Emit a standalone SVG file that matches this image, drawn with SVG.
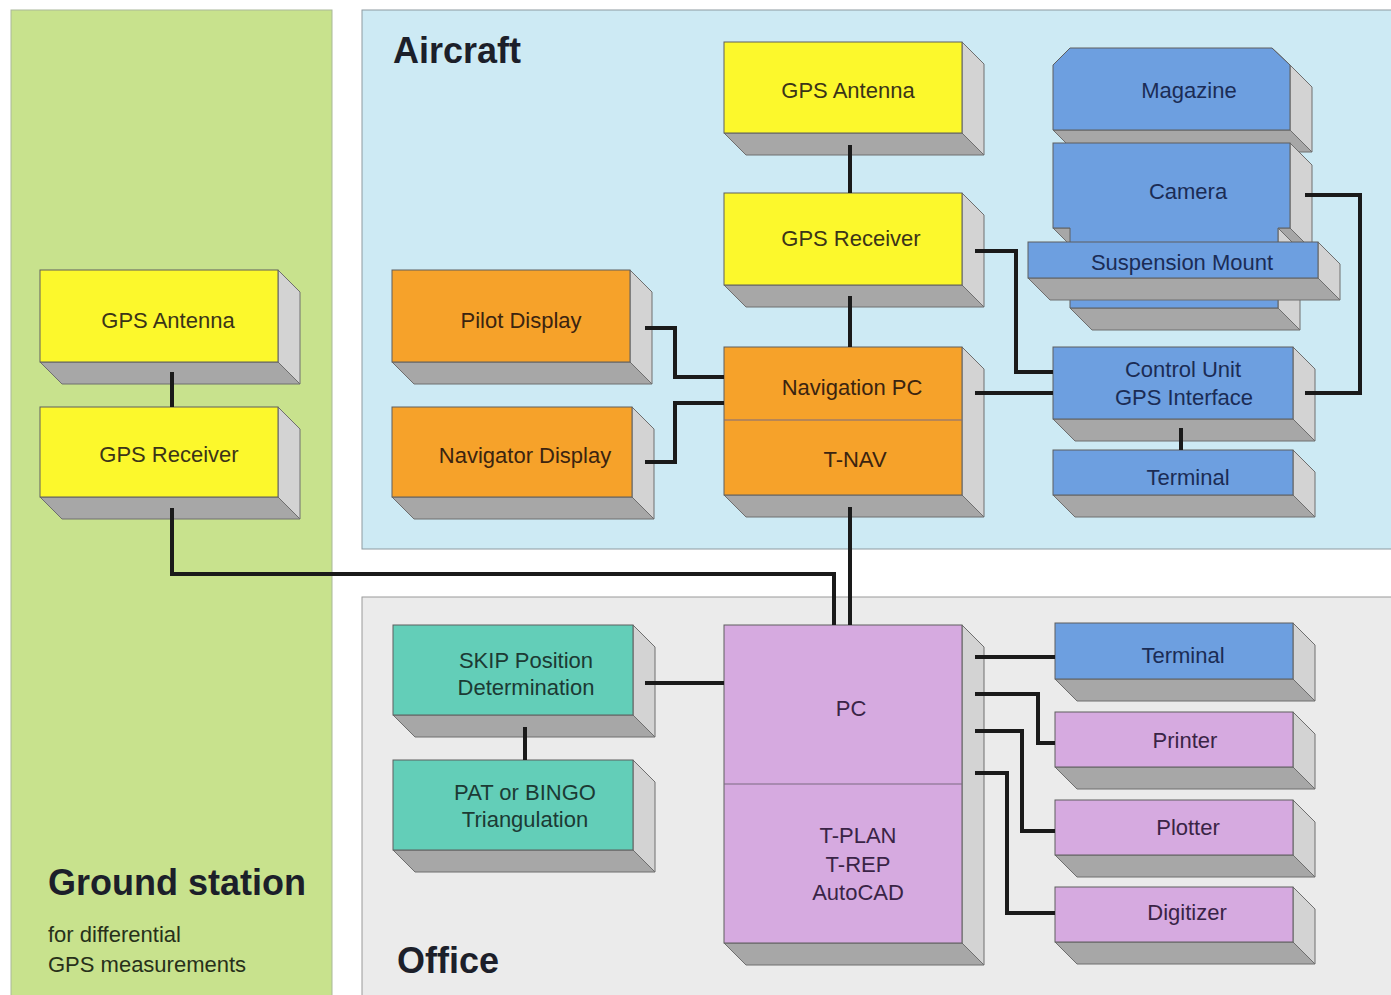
<svg xmlns="http://www.w3.org/2000/svg" width="1391" height="995" viewBox="0 0 1391 995">
<style>
.fr{stroke:#5e5e5e;stroke-width:1}
.rt{fill:#d3d3d3;stroke:#6e6e6e;stroke-width:1}
.bt{fill:#a7a7a7;stroke:#6e6e6e;stroke-width:1}
.y{fill:#fcf82c}
.o{fill:#f6a22a}
.b{fill:#6d9fe0}
.t{fill:#63ceb8}
.p{fill:#d6aae0}
.lbl{font-family:"Liberation Sans",Arial,sans-serif;font-size:22px;text-anchor:middle}
.ty{fill:#3b3418}
.to{fill:#3b2410}
.tb{fill:#1b2c55}
.tt{fill:#1c3a34}
.tp{fill:#3a2446}
.title{font-family:"Liberation Sans",Arial,sans-serif;font-weight:bold;font-size:36px;fill:#1c1f2a}
.sub{font-family:"Liberation Sans",Arial,sans-serif;font-size:22px;fill:#27301a}
.wire{fill:none;stroke:#1a1a1a;stroke-width:4}
.div{stroke:#7a6a80;stroke-width:1}
</style>
<rect width="1391" height="995" fill="#ffffff"/>
<g id="panels">
<rect x="11" y="10" width="321" height="990" fill="#c8e28d" stroke="#a9b89a" stroke-width="1"/>
<rect x="362" y="10" width="1035" height="539" fill="#cdeaf4" stroke="#8d9aa0" stroke-width="1"/>
<rect x="362" y="597" width="1035" height="400" fill="#ebebeb" stroke="#9a9a9a" stroke-width="1"/>
<text class="title" x="393" y="63">Aircraft</text>
<text class="title" x="397" y="973">Office</text>
<text class="title" x="48" y="895">Ground station</text>
<text class="sub" x="48" y="942">for differential</text>
<text class="sub" x="48" y="972">GPS measurements</text>
</g>

<g id="gs-antenna">
<polygon class="rt" points="278,270 300,292 300,384 278,362"/>
<polygon class="bt" points="40,362 278,362 300,384 62,384"/>
<rect class="fr y" x="40" y="270" width="238" height="92"/>
<text class="lbl ty" x="168" y="328">GPS Antenna</text>
</g>
<g id="gs-receiver">
<polygon class="rt" points="278,407 300,429 300,519 278,497"/>
<polygon class="bt" points="40,497 278,497 300,519 62,519"/>
<rect class="fr y" x="40" y="407" width="238" height="90"/>
<text class="lbl ty" x="169" y="462">GPS Receiver</text>
</g>

<g id="ac-antenna">
<polygon class="rt" points="962,42 984,64 984,155 962,133"/>
<polygon class="bt" points="724,133 962,133 984,155 746,155"/>
<rect class="fr y" x="724" y="42" width="238" height="91"/>
<text class="lbl ty" x="848" y="98">GPS Antenna</text>
</g>
<g id="ac-receiver">
<polygon class="rt" points="962,193 984,215 984,307 962,285"/>
<polygon class="bt" points="724,285 962,285 984,307 746,307"/>
<rect class="fr y" x="724" y="193" width="238" height="92"/>
<text class="lbl ty" x="851" y="246">GPS Receiver</text>
</g>
<g id="nav-pc">
<polygon class="rt" points="962,347 984,369 984,517 962,495"/>
<polygon class="bt" points="724,495 962,495 984,517 746,517"/>
<rect class="fr o" x="724" y="347" width="238" height="148"/>
<line class="div" x1="724" y1="420" x2="962" y2="420"/>
<text class="lbl to" x="852" y="395">Navigation PC</text>
<text class="lbl to" x="855" y="467">T-NAV</text>
</g>
<g id="pilot-display">
<polygon class="rt" points="630,270 652,292 652,384 630,362"/>
<polygon class="bt" points="392,362 630,362 652,384 414,384"/>
<rect class="fr o" x="392" y="270" width="238" height="92"/>
<text class="lbl to" x="521" y="328">Pilot Display</text>
</g>
<g id="navigator-display">
<polygon class="rt" points="632,407 654,429 654,519 632,497"/>
<polygon class="bt" points="392,497 632,497 654,519 414,519"/>
<rect class="fr o" x="392" y="407" width="240" height="90"/>
<text class="lbl to" x="525" y="463">Navigator Display</text>
</g>
<g id="magazine">
<polygon class="rt" points="1272,48 1294,70 1312,87 1290,65"/>
<polygon class="rt" points="1290,65 1312,87 1312,152 1290,130"/>
<polygon class="bt" points="1053,130 1290,130 1312,152 1075,152"/>
<polygon class="fr b" points="1053,65 1070,48 1272,48 1290,65 1290,130 1053,130"/>
<text class="lbl tb" x="1189" y="98">Magazine</text>
</g>
<g id="camera">
<polygon class="rt" points="1290,143 1312,165 1312,250 1290,228"/>
<polygon class="bt" points="1053,228 1290,228 1312,250 1075,250"/>
<rect class="fr b" x="1053" y="143" width="237" height="85"/>
<polygon class="rt" points="1278,228 1300,250 1300,330 1278,308"/>
<polygon class="bt" points="1070,308 1278,308 1300,330 1092,330"/>
<rect class="b" x="1070" y="227" width="208" height="81"/>
<path d="M1070,228 V308 H1278 V228" fill="none" stroke="#5e5e5e" stroke-width="1"/>
<text class="lbl tb" x="1188" y="199">Camera</text>
</g>
<g id="suspension-mount">
<polygon class="rt" points="1318,242 1340,264 1340,300 1318,278"/>
<polygon class="bt" points="1028,278 1318,278 1340,300 1050,300"/>
<rect class="fr b" x="1028" y="242" width="290" height="36"/>
<text class="lbl tb" x="1182" y="270">Suspension Mount</text>
</g>
<g id="control-unit">
<polygon class="rt" points="1293,347 1315,369 1315,441 1293,419"/>
<polygon class="bt" points="1053,419 1293,419 1315,441 1075,441"/>
<rect class="fr b" x="1053" y="347" width="240" height="72"/>
<text class="lbl tb" x="1183" y="377">Control Unit</text>
<text class="lbl tb" x="1184" y="405">GPS Interface</text>
</g>
<g id="terminal-aircraft">
<polygon class="rt" points="1293,450 1315,472 1315,517 1293,495"/>
<polygon class="bt" points="1053,495 1293,495 1315,517 1075,517"/>
<rect class="fr b" x="1053" y="450" width="240" height="45"/>
<text class="lbl tb" x="1188" y="485">Terminal</text>
</g>

<g id="skip">
<polygon class="rt" points="633,625 655,647 655,737 633,715"/>
<polygon class="bt" points="393,715 633,715 655,737 415,737"/>
<rect class="fr t" x="393" y="625" width="240" height="90"/>
<text class="lbl tt" x="526" y="668">SKIP Position</text>
<text class="lbl tt" x="526" y="695">Determination</text>
</g>
<g id="pat-bingo">
<polygon class="rt" points="633,760 655,782 655,872 633,850"/>
<polygon class="bt" points="393,850 633,850 655,872 415,872"/>
<rect class="fr t" x="393" y="760" width="240" height="90"/>
<text class="lbl tt" x="525" y="800">PAT or BINGO</text>
<text class="lbl tt" x="525" y="827">Triangulation</text>
</g>
<g id="pc">
<polygon class="rt" points="962,625 984,647 984,965 962,943"/>
<polygon class="bt" points="724,943 962,943 984,965 746,965"/>
<rect class="fr p" x="724" y="625" width="238" height="318"/>
<line class="div" x1="724" y1="784" x2="962" y2="784"/>
<text class="lbl tp" x="851" y="716">PC</text>
<text class="lbl tp" x="858" y="843">T-PLAN</text>
<text class="lbl tp" x="858" y="872">T-REP</text>
<text class="lbl tp" x="858" y="900">AutoCAD</text>
</g>
<g id="terminal-office">
<polygon class="rt" points="1293,623 1315,645 1315,701 1293,679"/>
<polygon class="bt" points="1055,679 1293,679 1315,701 1077,701"/>
<rect class="fr b" x="1055" y="623" width="238" height="56"/>
<text class="lbl tb" x="1183" y="663">Terminal</text>
</g>
<g id="printer">
<polygon class="rt" points="1293,712 1315,734 1315,789 1293,767"/>
<polygon class="bt" points="1055,767 1293,767 1315,789 1077,789"/>
<rect class="fr p" x="1055" y="712" width="238" height="55"/>
<text class="lbl tp" x="1185" y="748">Printer</text>
</g>
<g id="plotter">
<polygon class="rt" points="1293,800 1315,822 1315,877 1293,855"/>
<polygon class="bt" points="1055,855 1293,855 1315,877 1077,877"/>
<rect class="fr p" x="1055" y="800" width="238" height="55"/>
<text class="lbl tp" x="1188" y="835">Plotter</text>
</g>
<g id="digitizer">
<polygon class="rt" points="1293,887 1315,909 1315,964 1293,942"/>
<polygon class="bt" points="1055,942 1293,942 1315,964 1077,964"/>
<rect class="fr p" x="1055" y="887" width="238" height="55"/>
<text class="lbl tp" x="1187" y="920">Digitizer</text>
</g>

<g id="connectors">
<path class="wire" d="M172,372 V407"/>
<path class="wire" d="M172,508 V574 H834 V625"/>
<path class="wire" d="M850,145 V193"/>
<path class="wire" d="M850,296 V347"/>
<path class="wire" d="M850,507 V625"/>
<path class="wire" d="M975,251 H1016 V372 H1053"/>
<path class="wire" d="M975,393 H1053"/>
<path class="wire" d="M645,328 H675 V377 H724"/>
<path class="wire" d="M645,462 H675 V403 H724"/>
<path class="wire" d="M1305,195 H1360 V393 H1305"/>
<path class="wire" d="M1181,428 V450"/>
<path class="wire" d="M525,727 V760"/>
<path class="wire" d="M645,683 H724"/>
<path class="wire" d="M975,657 H1055"/>
<path class="wire" d="M975,694 H1038 V743 H1055"/>
<path class="wire" d="M975,731 H1022 V831 H1055"/>
<path class="wire" d="M975,773 H1007 V913 H1055"/>
</g>
</svg>
